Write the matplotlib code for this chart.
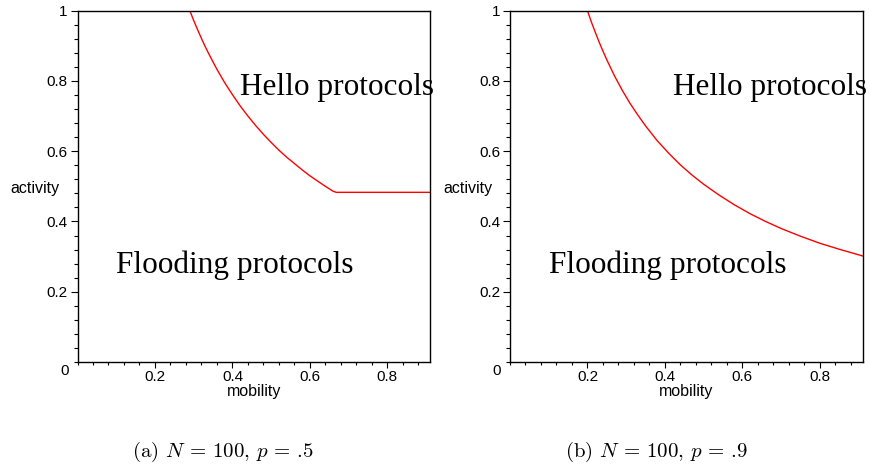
import matplotlib
matplotlib.use("Agg")
import matplotlib.pyplot as plt
from matplotlib.ticker import MultipleLocator, FixedLocator

plt.rcParams['mathtext.fontset'] = 'cm'

# Panel (a): N = 100, p = .5
mob_a = [0.29, 0.30, 0.31, 0.32, 0.33, 0.34, 0.36, 0.38, 0.40, 0.42, 0.44, 0.46, 0.48, 0.50,
         0.52, 0.54, 0.56, 0.58, 0.60, 0.62, 0.64, 0.66, 0.668, 0.91]
act_a = [1.000, 0.972, 0.946, 0.921, 0.897, 0.875, 0.833, 0.795, 0.761, 0.729, 0.700, 0.673,
         0.648, 0.625, 0.603, 0.583, 0.565, 0.547, 0.530, 0.515, 0.500, 0.486, 0.483, 0.483]

# Panel (b): N = 100, p = .9
mob_b = [0.20, 0.21, 0.22, 0.23, 0.24, 0.25, 0.27, 0.29, 0.31, 0.33, 0.35, 0.38, 0.41, 0.44,
         0.47, 0.50, 0.54, 0.58, 0.62, 0.66, 0.70, 0.75, 0.80, 0.85, 0.91]
act_b = [1.000, 0.968, 0.939, 0.911, 0.885, 0.860, 0.814, 0.773, 0.736, 0.703, 0.672, 0.630,
         0.594, 0.561, 0.532, 0.506, 0.475, 0.447, 0.422, 0.400, 0.380, 0.358, 0.338, 0.321, 0.302]

captions = [r"(a) $N$ = 100, $p$ = .5", r"(b) $N$ = 100, $p$ = .9"]
region_labels = ["Hello protocols", "Flooding protocols"]
xticks = [0.2, 0.4, 0.6, 0.8]
yticks = [0.2, 0.4, 0.6, 0.8, 1.0]
ytick_labels = ["0.2", "0.4", "0.6", "0.8", "1"]

W, H = 869, 468
fig = plt.figure(figsize=(W / 100, H / 100), dpi=100)

sans = "Liberation Sans"
serif = "Liberation Serif"

lefts = [77.5, 510]
for i, (mx, ay) in enumerate([(mob_a, act_a), (mob_b, act_b)]):
    l = lefts[i] / W
    ax = fig.add_axes([l, (H - 362) / H, 352.5 / W, 351.3 / H])
    ax.plot(mx, ay, color="#ff0000", lw=1.0)
    ax.set_xlim(0, 0.91)
    ax.set_ylim(0, 1)
    for s in ax.spines.values():
        s.set_linewidth(1.0)
    ax.xaxis.set_major_locator(FixedLocator(xticks))
    ax.xaxis.set_minor_locator(MultipleLocator(0.04))
    ax.yaxis.set_major_locator(FixedLocator(yticks))
    ax.yaxis.set_minor_locator(MultipleLocator(0.04))
    ax.set_xticklabels([f"{t:.1f}" for t in xticks], fontsize=11, family=sans)
    ax.set_yticklabels(ytick_labels, fontsize=11, family=sans)
    ax.tick_params(which="major", direction="out", length=5, width=0.8, pad=2)
    ax.tick_params(which="minor", direction="out", length=3, width=0.8)
    ax.tick_params(axis="x", which="major", length=4, pad=2)
    ax.tick_params(axis="x", which="minor", length=2.5)
    ax.text(-0.025, -0.025, "0", transform=ax.transAxes, ha="right", va="center",
            fontsize=11, family=sans)
    ax.set_xlabel("mobility", fontsize=11.5, family=sans)
    ax.xaxis.set_label_coords(0.5, -0.064)
    ax.set_ylabel("activity", fontsize=11.5, family=sans, rotation=0, ha="center", va="center")
    ax.yaxis.set_label_coords(-0.12, 0.495)
    ax.text(0.42, 0.78, region_labels[0], fontsize=22.5, family=serif, ha="left", va="center")
    ax.text(0.10, 0.276, region_labels[1], fontsize=22.5, family=serif, ha="left", va="center")

fig.text(223 / W, 1 - 452 / H, captions[0], fontsize=15, family="cmr10", ha="center", va="center")
fig.text(657 / W, 1 - 452 / H, captions[1], fontsize=15, family="cmr10", ha="center", va="center")

fig.savefig("out.png", dpi=100)
